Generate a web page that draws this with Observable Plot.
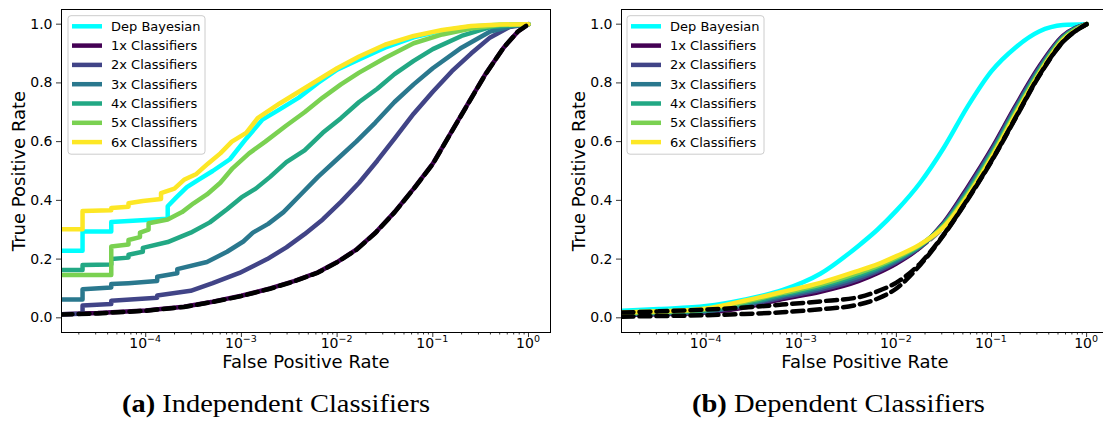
<!DOCTYPE html>
<html>
<head>
<meta charset="utf-8">
<script src="https://cdn.jsdelivr.net/npm/d3@7"></script>
<script src="https://cdn.jsdelivr.net/npm/@observablehq/plot@0.6"></script>
<style>
html,body{margin:0;padding:0;background:#fff;overflow:hidden;width:1103px;height:421px}
#wrap{position:relative;width:1103px;height:421px;overflow:hidden;background:#fff}
#pa{position:absolute;left:0;top:0;width:551px}
#pb{position:absolute;left:552px;top:0;width:557px}
#cap{position:absolute;left:0;top:0}
</style>
</head>
<body>
<div id="wrap"><div id="pa"></div><div id="pb"></div></div>
<script>
// ---------- labels ----------
const seriesNames = ["Dep Bayesian","1x Classifiers","2x Classifiers","3x Classifiers","4x Classifiers","5x Classifiers","6x Classifiers"];
const seriesColors = ["#00ffff","#440154","#414487","#2a788e","#22a884","#7ad151","#fde725"];
const xTickValues = [1e-4,1e-3,1e-2,1e-1,1];
const xTickBase = "10";
const xTickExponents = ["\u22124","\u22123","\u22122","\u22121","0"];
const yTickValues = [0,0.2,0.4,0.6,0.8,1.0];
const yTickLabels = ["0.0","0.2","0.4","0.6","0.8","1.0"];
const xLabel = "False Positive Rate";
const yLabel = "True Positive Rate";
const captionA = ["(a)", " Independent Classifiers"];
const captionB = ["(b)", " Dependent Classifiers"];

// ---------- panel (a): [log10 FPR, TPR] ----------
const aDepBayes = [[-4.88,0.228],[-4.66,0.228],[-4.66,0.294],[-4.36,0.294],[-4.36,0.326],[-3.77,0.337],[-3.77,0.38],[-3.68,0.41],[-3.57,0.445],[-3.45,0.47],[-3.3,0.5],[-3.12,0.54],[-2.95,0.61],[-2.78,0.675],[-2.6,0.71],[-2.4,0.75],[-2.2,0.8],[-2.0,0.845],[-1.77,0.88],[-1.5,0.92],[-1.2,0.955],[-0.9,0.978],[-0.6,0.992],[-0.3,0.998],[0,1]];
const a1x = [[-4.88,0.012],[-4.5,0.016],[-4.0,0.025],[-3.6,0.038],[-3.3,0.055],[-3.0,0.075],[-2.7,0.1],[-2.45,0.125],[-2.2,0.155],[-2.0,0.19],[-1.8,0.232],[-1.6,0.29],[-1.4,0.36],[-1.2,0.44],[-1.0,0.525],[-0.83,0.62],[-0.64,0.725],[-0.45,0.83],[-0.26,0.92],[-0.11,0.975],[0,1]];
const a2x = [[-4.88,0.012],[-4.66,0.014],[-4.66,0.042],[-4.36,0.047],[-4.36,0.058],[-3.88,0.068],[-3.88,0.076],[-3.53,0.092],[-3.3,0.118],[-3.02,0.153],[-2.73,0.2],[-2.53,0.24],[-2.34,0.285],[-2.15,0.335],[-1.96,0.395],[-1.77,0.46],[-1.58,0.535],[-1.4,0.61],[-1.2,0.695],[-1.0,0.77],[-0.8,0.84],[-0.6,0.9],[-0.4,0.955],[-0.2,0.99],[0,1]];
const a3x = [[-4.88,0.062],[-4.66,0.062],[-4.66,0.097],[-4.36,0.103],[-4.36,0.115],[-4.18,0.118],[-3.88,0.125],[-3.88,0.14],[-3.67,0.152],[-3.67,0.166],[-3.36,0.19],[-3.15,0.225],[-2.98,0.26],[-2.88,0.29],[-2.72,0.32],[-2.56,0.36],[-2.38,0.42],[-2.2,0.48],[-2.0,0.54],[-1.8,0.6],[-1.6,0.665],[-1.4,0.735],[-1.2,0.795],[-1.0,0.85],[-0.7,0.92],[-0.4,0.975],[-0.15,0.995],[0,1]];
const a4x = [[-4.88,0.163],[-4.66,0.163],[-4.66,0.18],[-4.36,0.182],[-4.36,0.2],[-4.18,0.205],[-4.18,0.215],[-4.03,0.225],[-4.03,0.238],[-3.77,0.258],[-3.53,0.29],[-3.33,0.325],[-3.15,0.37],[-3.0,0.41],[-2.85,0.44],[-2.7,0.48],[-2.53,0.53],[-2.34,0.57],[-2.15,0.63],[-1.96,0.68],[-1.77,0.735],[-1.58,0.78],[-1.4,0.83],[-1.2,0.875],[-1.0,0.915],[-0.7,0.96],[-0.4,0.99],[0,1]];
const a5x = [[-4.88,0.146],[-4.36,0.146],[-4.36,0.243],[-4.18,0.25],[-4.18,0.265],[-4.06,0.275],[-4.06,0.29],[-3.97,0.3],[-3.97,0.322],[-3.77,0.335],[-3.62,0.36],[-3.5,0.39],[-3.36,0.42],[-3.22,0.46],[-3.09,0.51],[-2.92,0.56],[-2.75,0.6],[-2.53,0.655],[-2.34,0.7],[-2.15,0.75],[-1.96,0.795],[-1.77,0.835],[-1.5,0.885],[-1.2,0.935],[-0.9,0.965],[-0.6,0.985],[-0.3,0.997],[0,1]];
const a6x = [[-4.88,0.302],[-4.66,0.302],[-4.66,0.364],[-4.36,0.366],[-4.36,0.374],[-4.18,0.378],[-4.18,0.39],[-4.03,0.398],[-3.84,0.405],[-3.84,0.425],[-3.7,0.44],[-3.6,0.47],[-3.47,0.49],[-3.35,0.525],[-3.22,0.56],[-3.1,0.6],[-2.95,0.63],[-2.83,0.68],[-2.6,0.73],[-2.4,0.77],[-2.2,0.81],[-2.0,0.85],[-1.77,0.89],[-1.5,0.93],[-1.2,0.96],[-0.9,0.98],[-0.6,0.994],[-0.3,0.999],[0,1]];
const aBaseline = [[-4.88,0.011],[-4.5,0.015],[-4.0,0.024],[-3.6,0.037],[-3.3,0.054],[-3.0,0.074],[-2.7,0.099],[-2.45,0.124],[-2.2,0.154],[-2.0,0.189],[-1.8,0.231],[-1.6,0.289],[-1.4,0.359],[-1.2,0.439],[-1.0,0.524],[-0.83,0.619],[-0.64,0.724],[-0.45,0.829],[-0.26,0.92],[-0.11,0.975],[0,1]];

// ---------- panel (b): shared log10 FPR grid and TPR per series ----------
const bLogFpr   = [-4.88,-4.5,-4.0,-3.6,-3.2,-2.8,-2.4,-2.2,-2.0,-1.75,-1.5,-1.25,-1.0,-0.75,-0.5,-0.25,0];
const bDepBayes = [0.024,0.03,0.04,0.062,0.094,0.15,0.245,0.30,0.365,0.46,0.58,0.72,0.84,0.92,0.975,0.997,1];
const b1x       = [0.010,0.012,0.018,0.035,0.064,0.089,0.125,0.152,0.185,0.240,0.325,0.445,0.575,0.720,0.855,0.960,1];
const b2x       = [0.011,0.014,0.021,0.040,0.069,0.095,0.132,0.158,0.190,0.242,0.322,0.439,0.569,0.714,0.850,0.957,1];
const b3x       = [0.013,0.016,0.023,0.045,0.074,0.101,0.139,0.164,0.195,0.244,0.320,0.433,0.563,0.708,0.845,0.955,1];
const b4x       = [0.014,0.018,0.026,0.049,0.079,0.107,0.146,0.170,0.200,0.246,0.317,0.427,0.557,0.702,0.840,0.952,1];
const b5x       = [0.016,0.020,0.029,0.054,0.084,0.113,0.153,0.176,0.205,0.248,0.314,0.421,0.551,0.696,0.835,0.949,1];
const b6x       = [0.018,0.022,0.032,0.058,0.088,0.119,0.160,0.182,0.210,0.250,0.310,0.415,0.545,0.690,0.830,0.945,1];
const bGray     = [0.011,0.014,0.020,0.038,0.066,0.092,0.128,0.155,0.188,0.240,0.310,0.415,0.545,0.690,0.830,0.945,1];
const bBlackA   = [0.018,0.022,0.028,0.035,0.045,0.056,0.070,0.090,0.120,0.185,0.285,0.405,0.535,0.680,0.825,0.940,1];
const bBlackB   = [0.004,0.006,0.009,0.013,0.019,0.029,0.045,0.065,0.100,0.180,0.283,0.403,0.533,0.678,0.823,0.939,1];

// ---------- build tables ----------
function pairsRows(pairs, series){ return pairs.map(([lx,y]) => ({x: Math.pow(10,lx), y, series})); }
function gridRows(vals, series){ return vals.map((y,i) => ({x: Math.pow(10,bLogFpr[i]), y, series})); }

const aSolid = [aDepBayes,a1x,a2x,a3x,a4x,a5x,a6x].flatMap((s,i)=>pairsRows(s, seriesNames[i]));
const aDashBlack = pairsRows(aBaseline, "baseline");
const bSolid = [bDepBayes,b1x,b2x,b3x,b4x,b5x,b6x].flatMap((s,i)=>gridRows(s, seriesNames[i]));
const bDashGray = gridRows(bGray, "gray");
const bDashBlack = [...gridRows(bBlackA,"A"), ...gridRows(bBlackB,"B")];

// minor tick positions of the log axis
const minorTicks = [];
for (let k=-5;k<=-1;k++) for (let m=2;m<=9;m++) minorTicks.push(m*Math.pow(10,k));

function panel({width, marginLeft, xdom, solid, grays, blacks, curve, legendX}) {
  const marks = [];
  if (grays) marks.push(Plot.line(grays, {x:"x", y:"y", z:"series", stroke:"#808080", strokeWidth:4.5, strokeDasharray:"12,5", curve, clip:true}));
  marks.push(Plot.line(solid, {x:"x", y:"y", z:"series", stroke:"series", strokeWidth:4.5, curve, clip:true}));
  marks.push(Plot.line(blacks, {x:"x", y:"y", z:"series", stroke:"#000", strokeWidth:4.5, strokeDasharray:"11,6", curve, clip:true}));
  marks.push(
    Plot.axisX(minorTicks.filter(d=>d>=xdom[0]&&d<=xdom[1]), {tickSize:2.5, tickFormat:()=> "", strokeWidth:0.8}),
    Plot.axisX(xTickValues, {tickSize:5, strokeWidth:0.8, tickFormat:()=> ""}),
    Plot.axisY(yTickValues, {tickSize:5, tickPadding:4, strokeWidth:0.8, fontSize:14, tickFormat: d => yTickLabels[yTickValues.indexOf(d)]}),
    Plot.text([xLabel], {frameAnchor:"bottom", dy:30, lineAnchor:"middle", textAnchor:"middle", text:d=>d, fontSize:18, fill:"#000"}),
    Plot.text([yLabel], {frameAnchor:"left", dx:-42, rotate:-90, lineAnchor:"middle", textAnchor:"middle", text:d=>d, fontSize:18, fill:"#000"}),
    Plot.frame({stroke:"#000", strokeWidth:1})
  );
  const svg = Plot.plot({
    width, height:372, marginLeft, marginRight:1, marginTop:9, marginBottom:40,
    style:{fontFamily:"DejaVu Sans", fontSize:"14px", color:"#000", background:"#fff"},
    x:{type:"log", domain:xdom, label:null, axis:null},
    y:{domain:[-0.05,1.05], label:null, axis:null},
    color:{domain:seriesNames, range:seriesColors},
    marks
  });
  const sx = svg.scale("x");
  const root = d3.select(svg);
  // x tick labels with superscript exponents
  const tg = root.append("g").attr("font-family","DejaVu Sans").attr("fill","#000");
  xTickValues.forEach((v,i)=>{
    const t = tg.append("text").attr("x", sx.apply(v)).attr("y", 348).attr("text-anchor","middle").attr("font-size",14);
    t.append("tspan").text(xTickBase);
    t.append("tspan").attr("font-size",9.5).attr("dy",-6).text(xTickExponents[i]);
  });
  // legend
  const g = root.append("g");
  const bx = legendX, by = 15.7, bw = 137, bh = 138.5;
  g.append("rect").attr("x",bx).attr("y",by).attr("width",bw).attr("height",bh)
    .attr("rx",3).attr("fill","rgba(255,255,255,0.8)").attr("stroke","#cccccc").attr("stroke-width",1);
  seriesNames.forEach((name,i)=>{
    const yy = 26.3 + i*19.3;
    g.append("line").attr("x1",bx+4).attr("x2",bx+34).attr("y1",yy).attr("y2",yy)
      .attr("stroke",seriesColors[i]).attr("stroke-width",4.5);
    g.append("text").attr("x",bx+43).attr("y",yy).attr("dy","0.35em").attr("text-anchor","start")
      .attr("font-family","DejaVu Sans").attr("font-size",13).attr("fill","#000").text(name);
  });
  return svg;
}

document.getElementById("pa").appendChild(panel({
  width:551, marginLeft:61, xdom:[Math.pow(10,-4.88), Math.pow(10,0.23)],
  solid:aSolid, grays:null, blacks:aDashBlack, curve:"linear", legendX:68
}));
document.getElementById("pb").appendChild(panel({
  width:557, marginLeft:69, xdom:[Math.pow(10,-4.89), Math.pow(10,0.23)],
  solid:bSolid, grays:bDashGray, blacks:bDashBlack, curve:"monotone-x", legendX:75
}));

// captions
const cap = d3.select("#wrap").append("svg").attr("id","cap").attr("width",1103).attr("height",421);
function caption(x0, width, parts){
  const t = cap.append("text").attr("x",x0).attr("y",412).attr("font-family","Liberation Serif")
    .attr("font-size",25).attr("fill","#000").attr("text-anchor","start")
    .attr("textLength",width).attr("lengthAdjust","spacingAndGlyphs");
  t.append("tspan").attr("font-weight","bold").text(parts[0]);
  t.append("tspan").text(parts[1]);
}
caption(122, 308, captionA);
caption(692, 293, captionB);
</script>
</body>
</html>
